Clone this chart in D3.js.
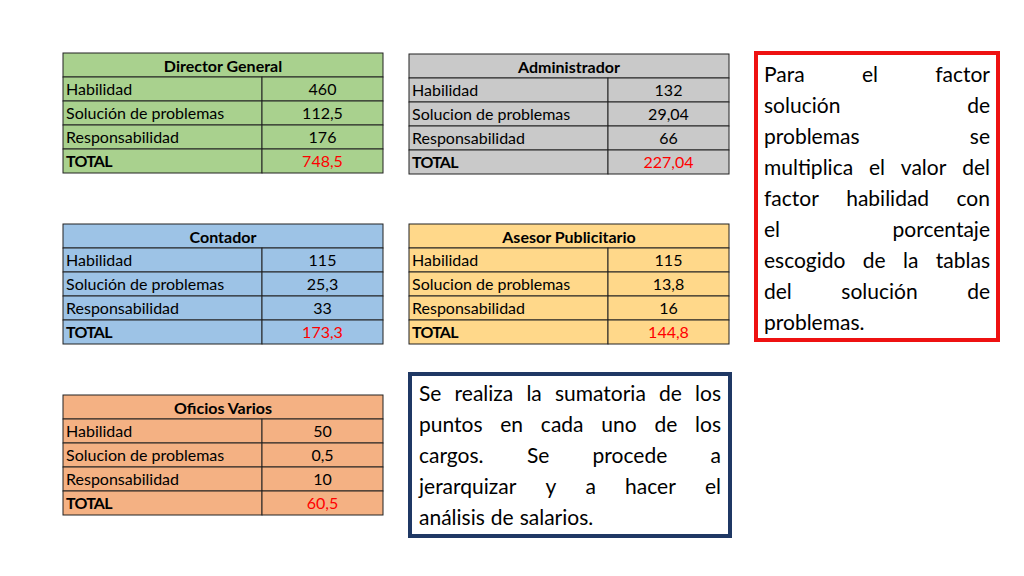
<!DOCTYPE html><html><head><meta charset="utf-8"><script src="https://cdn.jsdelivr.net/npm/d3@7"></script>
<style>body{margin:0;background:#fff}</style></head><body><svg id="s" width="1024" height="576"></svg><script>
const tableTitles=["Director General","Administrador","Contador","Asesor Publicitario","Oficios Varios"];
const rowLabels=[["Habilidad","Solución de problemas","Responsabilidad","TOTAL"],["Habilidad","Solucion de problemas","Responsabilidad","TOTAL"],["Habilidad","Solución de problemas","Responsabilidad","TOTAL"],["Habilidad","Solucion de problemas","Responsabilidad","TOTAL"],["Habilidad","Solucion de problemas","Responsabilidad","TOTAL"]];
const rowValues=[["460","112,5","176","748,5"],["132","29,04","66","227,04"],["115","25,3","33","173,3"],["115","13,8","16","144,8"],["50","0,5","10","60,5"]];
const fills=["#a9d18e","#c9c9c9","#9dc3e6","#ffd88a","#f4b183"];
const pos=[[63,53],[409,54],[63,224],[409,224],[63,395]];
const redLines=["Para el factor","solución de","problemas se","multiplica el valor del","factor habilidad con","el porcentaje","escogido de la tablas","del solución de","problemas."];
const blueLines=["Se realiza la sumatoria de los","puntos en cada uno de los","cargos. Se procede a","jerarquizar y a hacer el","análisis de salarios."];
const svg=d3.select("#s");
const W=320,H=24,C=199,F="Lato, 'Open Sans', sans-serif";
tableTitles.forEach((t,i)=>{
 const g=svg.append("g").attr("transform",`translate(${pos[i]})`);
 g.append("rect").attr("width",W).attr("height",H).attr("fill",fills[i]).attr("stroke","#222");
 g.append("text").attr("x",W/2).attr("y",19).attr("text-anchor","middle").attr("font-family",F).attr("font-weight","bold").attr("font-size",16).text(t);
 rowLabels[i].forEach((l,j)=>{
  const y=H*(j+1);
  g.append("rect").attr("y",y).attr("width",C).attr("height",H).attr("fill",fills[i]).attr("stroke","#222");
  g.append("rect").attr("x",C).attr("y",y).attr("width",W-C).attr("height",H).attr("fill",fills[i]).attr("stroke","#222");
  const tot=j===3;
  g.append("text").attr("x",3).attr("y",y+18).attr("font-family",F).attr("font-size",16).attr("font-weight",tot?"bold":"normal").attr("letter-spacing",tot?-0.8:0).text(l);
  g.append("text").attr("x",C+(W-C)/2).attr("y",y+18).attr("text-anchor","middle").attr("font-family",F).attr("font-size",16).attr("fill",tot?"#ff0000":"#000").text(rowValues[i][j]);
 });
});
function box(x,y,w,h,col,lines,tx,tw,by,lh){
 svg.append("rect").attr("x",x).attr("y",y).attr("width",w).attr("height",h).attr("fill","#fff").attr("stroke",col).attr("stroke-width",4);
 lines.forEach((ln,k)=>{
  const words=ln.split(" ");const last=k===lines.length-1;
  const ts=words.map(wd=>svg.append("text").attr("font-family",F).attr("font-size",21).attr("y",by+k*lh).text(wd));
  const ws=ts.map(t=>t.node().getComputedTextLength());
  const sp=words.length>1&&!last?(tw-d3.sum(ws))/(words.length-1):6;
  let cx=tx;ts.forEach((t,m)=>{t.attr("x",cx);cx+=ws[m]+sp;});
 });
}
box(756,53,242,287,"#ee1111",redLines,764,226,82,31);
box(410,374,320,162,"#1f3864",blueLines,419,302,401,31);
</script></body></html>
